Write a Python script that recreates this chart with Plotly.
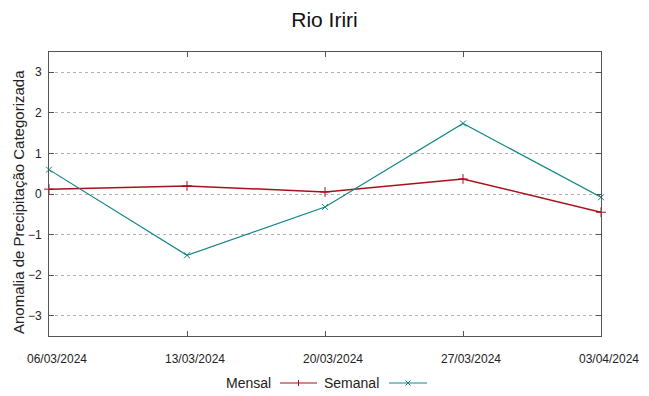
import plotly.graph_objects as go

title = "Rio Iriri"
ytitle = "Anomalia de Precipitação Categorizada"
dates = ["06/03/2024", "13/03/2024", "20/03/2024", "27/03/2024", "03/04/2024"]
mensal = [0.12, 0.20, 0.05, 0.37, -0.45]
semanal = [0.60, -1.51, -0.32, 1.74, -0.08]
yticks = [-3, -2, -1, 0, 1, 2, 3]

RED = "#a8101a"
TEAL = "#128585"
FONT = "Liberation Sans, Arial, sans-serif"
W, H = 649, 396
ML, MR, MT, MB = 49, 48, 52, 60
PW, PH = W - ML - MR, H - MT - MB

def px(x):
    return (x - ML) / PW

def py(y):
    return 1 - (y - MT) / PH

fig = go.Figure()
fig.add_trace(go.Scatter(x=dates, y=mensal, mode="lines+markers", name="Mensal",
                         line=dict(color=RED, width=1.5),
                         marker=dict(symbol="cross-thin-open", size=7, line=dict(color=RED, width=1)),
                         cliponaxis=False, showlegend=False))
fig.add_trace(go.Scatter(x=dates, y=semanal, mode="lines+markers", name="Semanal",
                         line=dict(color=TEAL, width=1.2),
                         marker=dict(symbol="x-thin-open", size=6, line=dict(color=TEAL, width=1)),
                         cliponaxis=False, showlegend=False))

axis_common = dict(showline=True, linecolor="#555555", linewidth=1, mirror="ticks",
                   ticks="inside", ticklen=5, tickcolor="#555555", zeroline=False,
                   automargin=False,
                   tickfont=dict(family=FONT, size=12, color="#222222"))

fig.update_xaxes(type="category", range=[0, len(dates) - 1], showgrid=False,
                 ticklabelshift=8, ticklabelstandoff=12, **axis_common)
fig.update_yaxes(range=[-3.5, 3.5], tickvals=yticks, showgrid=True, gridcolor="#b0b0b0",
                 griddash="dot", gridwidth=1, ticklabelstandoff=4, **axis_common)

annotations = [
    dict(text=ytitle, textangle=-90, x=px(18), y=py(202), xref="paper", yref="paper",
         showarrow=False, xanchor="center", yanchor="middle",
         font=dict(family=FONT, size=15, color="#222222")),
    dict(text="Mensal", x=px(273), y=py(383), xref="paper", yref="paper", showarrow=False,
         xanchor="right", yanchor="middle",
         font=dict(family=FONT, size=14, color="#222222")),
    dict(text="Semanal", x=px(381), y=py(383), xref="paper", yref="paper", showarrow=False,
         xanchor="right", yanchor="middle",
         font=dict(family=FONT, size=14, color="#222222")),
]

shapes = []
# legend samples
for (x0, x1, col, kind) in [(280, 317, RED, "+"), (389, 427, TEAL, "x")]:
    yc = 383
    shapes.append(dict(type="line", xref="paper", yref="paper", x0=px(x0), x1=px(x1),
                       y0=py(yc), y1=py(yc), line=dict(color=col, width=1.2)))
    xm = (x0 + x1) / 2
    if kind == "+":
        shapes.append(dict(type="line", xref="paper", yref="paper", x0=px(xm), x1=px(xm),
                           y0=py(yc - 3), y1=py(yc + 3), line=dict(color=col, width=1)))
    else:
        shapes.append(dict(type="line", xref="paper", yref="paper", x0=px(xm - 2.5), x1=px(xm + 2.5),
                           y0=py(yc - 2.5), y1=py(yc + 2.5), line=dict(color=col, width=1)))
        shapes.append(dict(type="line", xref="paper", yref="paper", x0=px(xm - 2.5), x1=px(xm + 2.5),
                           y0=py(yc + 2.5), y1=py(yc - 2.5), line=dict(color=col, width=1)))

fig.update_layout(
    width=W, height=H,
    margin=dict(l=ML, r=MR, t=MT, b=MB, autoexpand=False),
    paper_bgcolor="white", plot_bgcolor="white",
    title=dict(text=title, x=0.5, xanchor="center", y=1 - 20 / H, yanchor="middle",
               font=dict(family=FONT, size=21, color="#111111")),
    annotations=annotations, shapes=shapes, showlegend=False,
)

fig.write_html("out.html", config={"displayModeBar": False},
               post_script="document.body.style.margin='0';document.body.style.padding='0';document.body.style.overflow='hidden';")
